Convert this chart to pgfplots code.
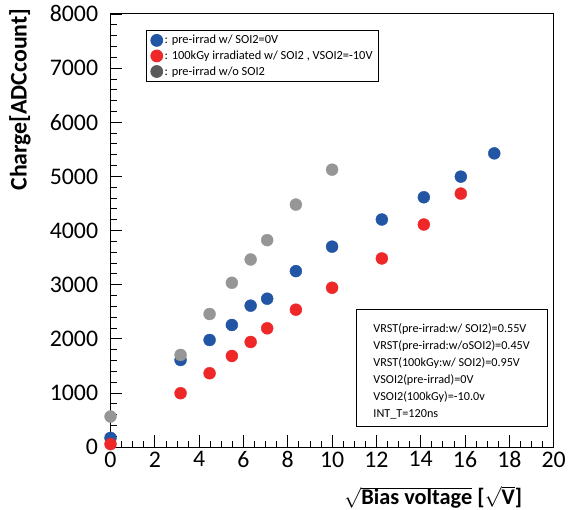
\documentclass[border=0pt]{standalone}
\usepackage{fontspec}
\setmainfont{Carlito}
\usepackage{pgfplots}
\pgfplotsset{compat=1.18}
\definecolor{cblue}{RGB}{35,85,165}
\definecolor{cred}{RGB}{238,40,40}
\definecolor{cgray}{RGB}{150,150,150}
\definecolor{cdgray}{RGB}{90,90,90}
\begin{document}
\begin{tikzpicture}
\begin{axis}[
  scale only axis, width=445bp, height=435bp,
  at={(0,0)}, anchor=south west,
  xmin=0, xmax=20, ymin=0, ymax=8000,
  xtick={0,2,...,20}, ytick={0,1000,...,8000},
  minor x tick num=3, minor y tick num=4,
  tick align=inside, tick pos=left,
  major tick length=12bp, minor tick length=6bp,
  tick style={black, line width=0.8bp},
  axis line style={line width=0.9bp},
  ticklabel style={font=\fontsize{24}{24}\selectfont},
  /pgf/number format/assume math mode=true,
  scaled y ticks=false,
  yticklabel style={/pgf/number format/1000 sep={}, xshift=-9bp},
  xticklabel style={yshift=-1bp},
  clip=false,
  legend cell align=left,
  legend style={at={(rel axis cs:0.081,0.963)}, anchor=north west,
    draw=black, line width=0.8bp, font=\fontsize{12.5}{14}\selectfont,
    inner xsep=4bp, inner ysep=3bp, row sep=1.5bp},
]
\addplot[only marks, mark=*, mark size=6bp, color=cblue] coordinates {
(0,170) (3.162,1609) (4.472,1978) (5.477,2255) (6.325,2612) (7.071,2741)
(8.367,3250) (10,3702) (12.247,4203) (14.142,4614) (15.811,4995) (17.321,5425)
};
\addlegendentry{: pre-irrad w/ SOI2=0V}
\addplot[only marks, mark=*, mark size=6bp, color=cred] coordinates {
(0,55) (3.162,995) (4.472,1364) (5.477,1683) (6.325,1941) (7.071,2194)
(8.367,2538) (10,2943) (12.247,3484) (14.142,4111) (15.811,4682)
};
\addlegendentry{: 100kGy irradiated w/ SOI2 , VSOI2=-10V}
\addplot[only marks, mark=*, mark size=6bp, color=cgray,
  legend image post style={color=cdgray}] coordinates {
(0,565) (3.162,1702) (4.472,2458) (5.477,3035) (6.325,3465) (7.071,3822)
(8.367,4479) (10,5124)
};
\addlegendentry{: pre-irrad w/o SOI2}
\draw[black, line width=0.8bp] (rel axis cs:0.555,0.048) rectangle (rel axis cs:0.987,0.317);
\node[anchor=north west, align=left, inner sep=0pt,
  font=\fontsize{12.3}{17}\selectfont] at (rel axis cs:0.593,0.285)
  {VRST(pre-irrad:w/ SOI2)=0.55V\\
   VRST(pre-irrad:w/oSOI2)=0.45V\\
   VRST(100kGy:w/ SOI2)=0.95V\\
   VSOI2(pre-irrad)=0V\\
   VSOI2(100kGy)=-10.0v\\
   INT\_T=120ns};
\end{axis}
\node[rotate=90, anchor=east, font=\fontsize{24}{24}\selectfont\bfseries] at (-91bp,444bp) {Charge[ADCcount]};
\node[font=\fontsize{22.5}{24}\selectfont\bfseries, inner sep=0pt] at (324bp,-50.5bp) {$\sqrt{\mbox{\bfseries Bias voltage}}$ [$\sqrt{\mbox{\bfseries V}}$]};
\path[use as bounding box] (-111bp,-63bp) rectangle (458bp,449bp);
\end{tikzpicture}
\end{document}
